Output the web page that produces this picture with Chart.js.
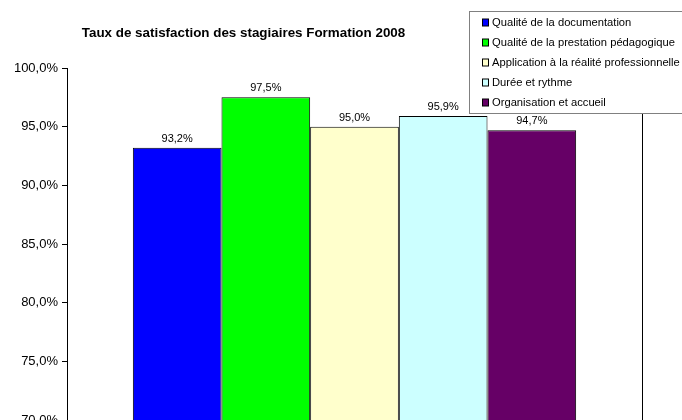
<!DOCTYPE html>
<html>
<head>
<meta charset="utf-8">
<script src="https://cdn.jsdelivr.net/npm/chart.js@4/dist/chart.umd.min.js"></script>
<style>
  html, body { margin: 0; padding: 0; background: #fff; }
  #wrap { width: 682px; height: 420px; }
</style>
</head>
<body>
<div id="wrap"><canvas id="satChart" width="682" height="420"></canvas></div>
<script>
// values
var chartTitle = 'Taux de satisfaction des stagiaires Formation 2008';
var categories = ['Qualité de la documentation', 'Qualité de la prestation pédagogique',
    'Application à la réalité professionnelle', 'Durée et rythme', 'Organisation et accueil'];
var rates = [93.2, 97.5, 95.0, 95.9, 94.7];
var barColors = ['#0000FF', '#00FF00', '#FFFFCC', '#CCFFFF', '#660066'];
var yTicks = [70, 75, 80, 85, 90, 95, 100];

var FONT = 'Arial, "Liberation Sans", sans-serif';

function pct(v) {
    return v.toFixed(1).replace('.', ',') + '%';
}

var decorations = {
    id: 'decorations',
    afterDatasetsDraw: function(chart) {
        var c = chart.ctx;
        var area = chart.chartArea;
        c.save();
        // right edge of plot area
        c.strokeStyle = '#000';
        c.lineWidth = 1;
        c.beginPath();
        c.moveTo(Math.round(area.right) + 0.5, area.top);
        c.lineTo(Math.round(area.right) + 0.5, area.bottom);
        c.stroke();

        // value labels above bars
        c.fillStyle = '#000';
        c.font = '11px ' + FONT;
        c.textAlign = 'center';
        c.textBaseline = 'alphabetic';
        chart.data.datasets.forEach(function(ds, i) {
            var bar = chart.getDatasetMeta(i).data[0];
            c.fillText(pct(ds.data[0]), bar.x, bar.y - 6);
        });

        // title
        c.font = 'bold 13.4px ' + FONT;
        c.textBaseline = 'middle';
        c.fillText(chartTitle, 243.5, 33);

        // legend box
        var lx = 469.5, ly = 11.5;
        c.fillStyle = '#fff';
        c.fillRect(lx, ly, 240, 102);
        c.strokeStyle = '#808080';
        c.strokeRect(lx, ly, 240, 102);
        c.font = '11.2px ' + FONT;
        c.textAlign = 'left';
        chart.data.datasets.forEach(function(ds, i) {
            var cy = 22.5 + i * 20;
            c.fillStyle = ds.backgroundColor;
            c.fillRect(482, cy - 3.5, 7, 7);
            c.strokeStyle = '#000';
            c.strokeRect(482.5, cy - 3.5, 6, 7);
            c.fillStyle = '#000';
            c.fillText(ds.label, 492, cy + 0.5);
        });
        c.restore();
    }
};

var datasets = categories.map(function(name, i) {
    return {
        label: name,
        data: [rates[i]],
        backgroundColor: barColors[i],
        borderColor: '#000',
        borderWidth: 1,
        categoryPercentage: 0.771,
        barPercentage: 1
    };
});

new Chart(document.getElementById('satChart'), {
    type: 'bar',
    data: { labels: [''], datasets: datasets },
    options: {
        responsive: false,
        animation: false,
        layout: { padding: { top: 68, right: 40, bottom: 0, left: 0 } },
        plugins: {
            legend: { display: false },
            title: { display: false },
            tooltip: { enabled: false }
        },
        scales: {
            x: { display: false },
            y: {
                min: yTicks[0],
                max: yTicks[yTicks.length - 1],
                afterBuildTicks: function(scale) {
                    scale.ticks = yTicks.map(function(v) { return { value: v }; });
                },
                afterFit: function(scale) {
                    scale.width = 67;
                    scale.paddingTop = 0;
                    scale.paddingBottom = 0;
                },
                border: { display: true, color: '#000', width: 1 },
                grid: { drawOnChartArea: false, drawTicks: true, tickLength: 5, color: '#000' },
                ticks: {
                    color: '#000',
                    padding: 4,
                    font: { family: FONT, size: 13 },
                    callback: function(v) { return pct(v); }
                }
            }
        }
    },
    plugins: [decorations]
});
</script>
</body>
</html>
